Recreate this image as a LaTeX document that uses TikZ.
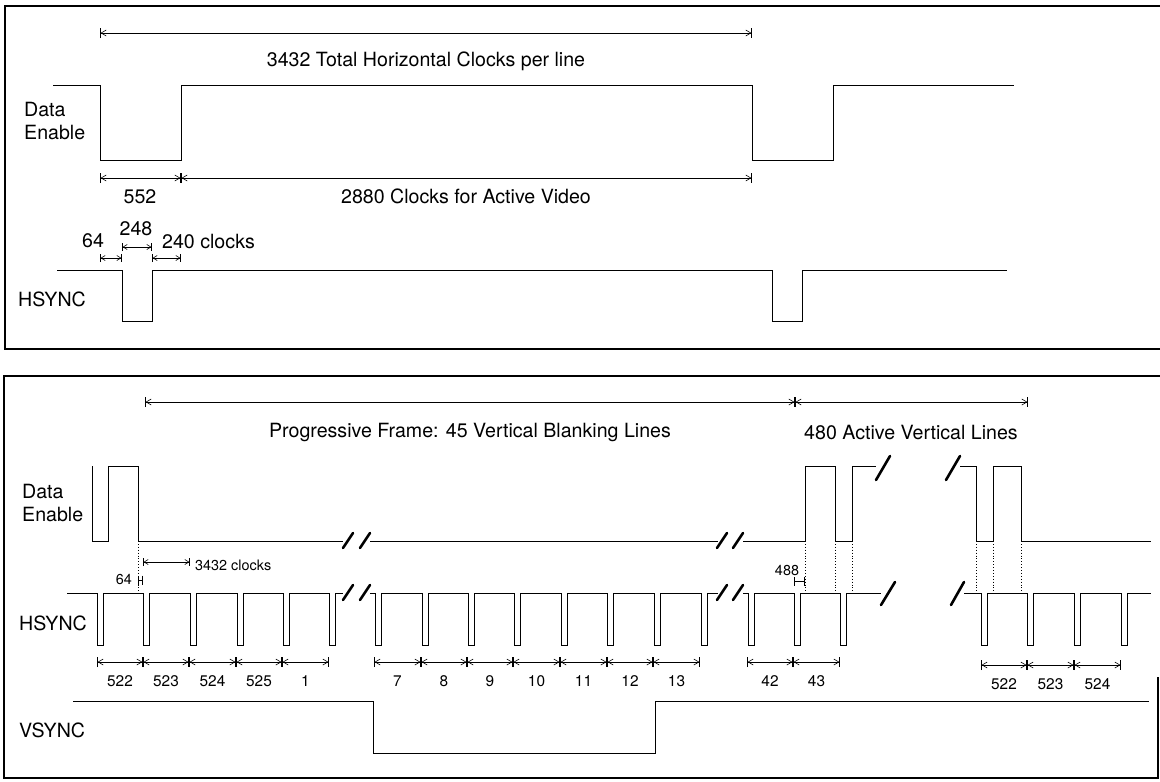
\documentclass[tikz,border=0pt]{standalone}
\usepackage{fontspec}
\setmainfont{TeX Gyre Heros}
\usetikzlibrary{arrows.meta}
\tikzset{
  panel/.style={line width=1.3pt},
  wave/.style={line width=0.9pt},
  brk/.style={line width=2.6pt, line cap=round},
  guide/.style={line width=0.9pt, dotted},
  dimline/.style={line width=0.6pt, arrows={{Bar[width=10pt]Straight Barb[length=5pt,width=6pt]}-{Straight Barb[length=5pt,width=6pt]Bar[width=10pt]}}},
  dimtiny/.style={line width=0.6pt, arrows={{Bar[width=8pt]Straight Barb[length=4pt,width=5pt]}-{Straight Barb[length=4pt,width=5pt]Bar[width=8pt]}}},
  dimbar/.style={line width=0.6pt, arrows={Bar[width=9pt]-Bar[width=9pt]}},
  lbl/.style={font=\fontsize{19.6}{23}\selectfont, inner sep=0pt},
  num/.style={font=\fontsize{15.4}{18}\selectfont, inner sep=0pt},
  sml/.style={font=\fontsize{14.4}{17}\selectfont, inner sep=0pt}
}

\begin{document}
\begin{tikzpicture}[x=1pt, y=-1pt]
  \useasboundingbox (0,0) rectangle (1160,782);

  % frames
  \draw[panel] (1160,6) -- (5,6) -- (5,349) -- (1160,349);
  \draw[panel] (1160,376) -- (4,376) -- (4,778) -- (1158,778) -- (1158,677);

  % horizontal line timing
  \node[lbl, anchor=west, align=left] (deH) at (24,120.5) {Data\\Enable};
  \node[lbl, anchor=base west] (hsH) at (18,306) {HSYNC};

  \draw[wave] (53,85) -- (100,85) -- (100,160) -- (181,160) -- (181,85) -- (752,85)
    -- (752,160) -- (833,160) -- (833,85) -- (1014,85);
  \draw[wave] (57,270) -- (122,270) -- (122,321) -- (152,321) -- (152,270) -- (772,270)
    -- (772,321) -- (802,321) -- (802,270) -- (1007,270);

  \draw[dimline] (100,33) -- (752,33);
  \node[lbl, anchor=base] (totH) at (426,66) {3432 Total Horizontal Clocks per line};
  \draw[dimline] (100,178) -- (181,178);
  \draw[dimline] (181,178) -- (752,178);
  \node[lbl, anchor=base] (blkH) at (140,203) {552};
  \node[lbl, anchor=base] (actH) at (466,203) {2880 Clocks for Active Video};

  \draw[dimtiny] (100,258) -- (122,258);
  \draw[dimtiny] (122,247) -- (152,247);
  \draw[dimtiny] (152,258) -- (181,258);
  \node[lbl, anchor=base] (fpH) at (93,247) {64};
  \node[lbl, anchor=base] (swH) at (136,235) {248};
  \node[lbl, anchor=base west] (bpH) at (162,248) {240 clocks};

  % vertical frame timing
  \node[lbl, anchor=west, align=left] (deV) at (22,502.5) {Data\\Enable};
  \node[lbl, anchor=base west] (hsV) at (19,630) {HSYNC};
  \node[lbl, anchor=base west] (vsV) at (19,737) {VSYNC};

  \draw[dimline] (145,402) -- (795,402);
  \draw[dimline] (795,402) -- (1028,402);
  \node[lbl, anchor=base] (blkV) at (470,437) {Progressive Frame: 45 Vertical Blanking Lines};
  \node[lbl, anchor=base] (actV) at (911,439) {480 Active Vertical Lines};

  % data enable
  \draw[wave] (92,466) -- (92,541) -- (108,541) -- (108,466) -- (138,466) -- (138,541) -- (343,541);
  \draw[wave] (370,541) -- (718,541);
  \draw[wave] (743,541) -- (805,541) -- (805,466) -- (835,466) -- (835,541) -- (852,541)
    -- (852,466) -- (876,466);
  \draw[wave] (960,466) -- (976,466) -- (976,541) -- (993,541) -- (993,466) -- (1021,466)
    -- (1021,541) -- (1151,541);

  % hsync
  \draw[wave] (67,593) foreach \x in {97,143,190,237,283,329}
    { -- (\x,593) -- (\x,645) -- (\x+6,645) -- (\x+6,593) } -- (343,593);
  \draw[wave] (370,593) foreach \x in {375,422,468,514,561,607,654,701}
    { -- (\x,593) -- (\x,645) -- (\x+6,645) -- (\x+6,593) } -- (718,593);
  \draw[wave] (743,593) foreach \x in {748,794,840}
    { -- (\x,593) -- (\x,645) -- (\x+6,645) -- (\x+6,593) } -- (881,593);
  \draw[wave] (964,593) foreach \x in {981,1027,1074,1121}
    { -- (\x,593) -- (\x,645) -- (\x+6,645) -- (\x+6,593) } -- (1151,593);

  % vsync
  \draw[wave] (73,701) -- (373,701) -- (373,753) -- (655,753) -- (655,701) -- (1149,701);

  % breaks
  \foreach \x in {348,365,722,738} {
    \draw[brk] (\x-5,548) -- (\x+5,533);
    \draw[brk] (\x-5,600) -- (\x+5,585);
  }
  \draw[brk] (876,480) -- (890,456);
  \draw[brk] (946,480) -- (960,456);
  \draw[brk] (881,605) -- (895,582);
  \draw[brk] (951,605) -- (964,582);

  % guides
  \foreach \x in {138,805,835,852,976,993,1021}
    \draw[guide] (\x,541) -- (\x,593);

  \draw[dimtiny] (143,562) -- (190,562);
  \node[sml, anchor=base west] (clkV) at (195,570) {3432 clocks};
  \draw[dimbar] (138,580) -- (143,580);
  \node[sml, anchor=base east] (fpV) at (132,584) {64};
  \draw[dimbar] (794,581) -- (805,581);
  \node[sml, anchor=base] (dlyV) at (787,575) {488};

  % line counts
  \foreach \a/\b/\t [count=\i] in {97/143/522, 143/189/523, 189/236/524, 236/282/525, 282/329/1,
      374/421/7, 421/467/8, 467/513/9, 513/560/10, 560/607/11, 607/653/12, 653/700/13,
      747/793/42, 793/840/43} {
    \draw[dimline] (\a,662) -- (\b,662);
    \node[num, anchor=base] (ln\i) at ({(\a+\b)/2},686) {\t};
  }
  \foreach \a/\b/\t [count=\i] in {981/1027/522, 1027/1074/523, 1074/1121/524} {
    \draw[dimline] (\a,665) -- (\b,665);
    \node[num, anchor=base] (lr\i) at ({(\a+\b)/2},689) {\t};
  }
\end{tikzpicture}
\end{document}
